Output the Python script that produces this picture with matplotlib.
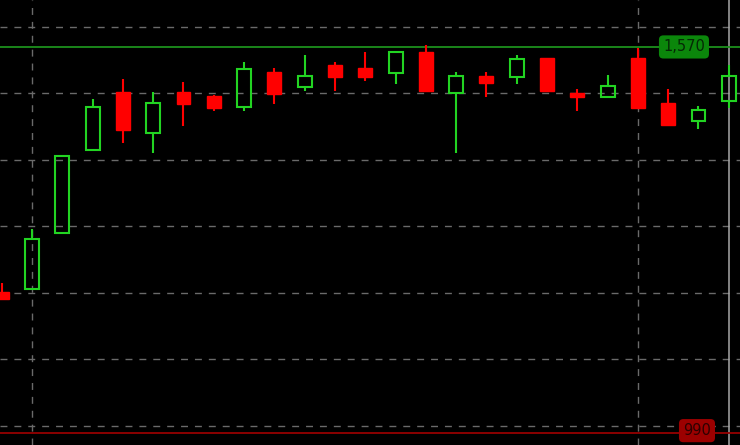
import matplotlib
matplotlib.use("Agg")
import matplotlib.pyplot as plt
from matplotlib.patches import Rectangle

# OHLC, one candle per bar
opens = [1201, 1206, 1290, 1415, 1502, 1441, 1502, 1496, 1480, 1532, 1510, 1543, 1538,
         1531, 1562, 1501, 1526, 1525, 1553, 1501, 1495, 1553, 1486, 1459, 1489]
closes = [1191, 1281, 1406, 1480, 1445, 1486, 1484, 1478, 1537, 1499, 1526, 1525, 1525,
          1562, 1504, 1526, 1516, 1552, 1504, 1495, 1511, 1478, 1453, 1475, 1526]
highs = [1215, 1296, 1406, 1492, 1522, 1502, 1517, 1498, 1547, 1538, 1558, 1547, 1562,
         1562, 1573, 1532, 1532, 1558, 1553, 1507, 1528, 1568, 1507, 1481, 1543]
lows = [1190, 1206, 1290, 1415, 1426, 1411, 1451, 1474, 1474, 1484, 1504, 1504, 1519,
        1514, 1504, 1411, 1495, 1514, 1504, 1474, 1495, 1478, 1453, 1447, 1478]

upper_level = 1570
lower_level = 990
upper_label = "1,570"
lower_label = "990"

up_color = "#22d422"
down_color = "#ff0000"
grid_color = "#6a6a6a"

fig = plt.figure(figsize=(7.4, 4.45), dpi=100)
fig.patch.set_facecolor("black")
ax = fig.add_axes([0, 0, 1, 1])
ax.set_facecolor("black")

ax.set_xlim(-0.056, 24.37)
ax.set_ylim(971.4, 1640.6)

# dashed grid
for y in range(1000, 1700, 100):
    ax.axhline(y, color=grid_color, lw=1, ls=(0, (5, 5)), zorder=1)
for x in [1, 21]:
    ax.axvline(x, color=grid_color, lw=1, ls=(0, (5, 5)), zorder=1)

# crosshair at the last bar
ax.axvline(24, color="#a8a8a8", lw=1.1, zorder=1)

w = 0.46
for i in range(len(opens)):
    o, c, h, l = opens[i], closes[i], highs[i], lows[i]
    top, bot = max(o, c), min(o, c)
    if c >= o:
        ax.vlines(i, top, h, color=up_color, lw=1.5, zorder=3)
        ax.vlines(i, l, bot, color=up_color, lw=1.5, zorder=3)
        ax.add_patch(Rectangle((i - w / 2, bot), w, top - bot, facecolor="none",
                               edgecolor=up_color, lw=1.5, zorder=3))
    else:
        ax.vlines(i, l, h, color=down_color, lw=1.5, zorder=3)
        ax.add_patch(Rectangle((i - w / 2, bot), w, top - bot, facecolor=down_color,
                               edgecolor=down_color, lw=1, zorder=3))

# price levels
ax.axhline(upper_level, color="#1c8f1c", lw=1.3, zorder=2)
ax.axhline(lower_level, color="#960000", lw=1.3, zorder=2)
ax.text(22.52, upper_level, upper_label, ha="center", va="center", fontsize=10.5,
        color="#052805", zorder=5,
        bbox=dict(boxstyle="round,pad=0.28,rounding_size=0.3", fc="#0b860b", ec="none"))
ax.text(22.95, lower_level + 3, lower_label, ha="center", va="center", fontsize=10.5,
        color="#2e0000", zorder=5,
        bbox=dict(boxstyle="round,pad=0.28,rounding_size=0.3", fc="#9c0000", ec="none"))

ax.set_xticks([])
ax.set_yticks([])
for s in ax.spines.values():
    s.set_visible(False)

fig.savefig("out.png", dpi=100, facecolor="black")
